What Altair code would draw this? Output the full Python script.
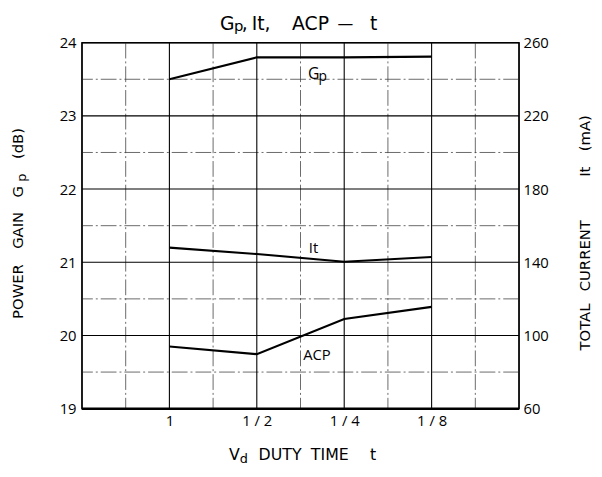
import altair as alt
import pandas as pd

# ---- data ----
duty = ["1", "1 / 2", "1 / 4", "1 / 8"]          # Vd duty time categories
gp_db = [23.5, 23.8, 23.8, 23.81]                 # power gain Gp (dB, left axis)
it_ma = [148, 144.5, 140.3, 142.9]                # total current It (mA, right axis)
acp_v = [19.85, 19.745, 20.225, 20.39]            # ACP curve (drawn on left scale)
left_ticks = [19, 20, 21, 22, 23, 24]
right_ticks = [60, 100, 140, 180, 220, 260]

W, H = 443, 371
FONT = "Open Sans"
TFONT = "DejaVu Sans"

slots = [2 * (i + 1) for i in range(len(duty))]
df = pd.DataFrame({"slot": slots, "duty": duty, "gp": gp_db, "it": it_ma, "acp": acp_v})

xscale = alt.Scale(domain=[0, 10], nice=False, zero=False)
ylscale = alt.Scale(domain=[19, 24], nice=False, zero=False)
yrscale = alt.Scale(domain=[60, 260], nice=False, zero=False)

label_expr = "".join(f"datum.value=={s}?'{d}':" for s, d in zip(slots, duty)) + "''"
xaxis = alt.Axis(values=slots, labelExpr=label_expr, ticks=False, domain=False, grid=False,
                 labelFont=FONT, labelFontSize=15, labelPadding=5, labelColor="black", title=None)
ylaxis = alt.Axis(values=left_ticks, format="d", ticks=False, domain=False, grid=False,
                  labelFont=FONT, labelFontSize=15, labelPadding=6, labelColor="black", title=None)
yraxis = alt.Axis(values=right_ticks, format="d", ticks=False, domain=False, grid=False, orient="right",
                  labelFont=FONT, labelFontSize=15, labelPadding=4, labelColor="black", title=None)

def X(f):
    return alt.X(f, type="quantitative", scale=xscale, axis=xaxis)

def YL(f):
    return alt.Y(f, type="quantitative", scale=ylscale, axis=ylaxis)

# grid
hvals = [19 + 0.5 * i for i in range(11)]
hgrid = pd.DataFrame({"v": hvals, "major": [v == int(v) for v in hvals]})
vvals = list(range(11))
vgrid = pd.DataFrame({"u": vvals, "major": [u % 2 == 0 for u in vvals]})

h_major = alt.Chart(hgrid[hgrid.major]).mark_rule(color="black", strokeWidth=1.1).encode(y=YL("v"))
h_minor = alt.Chart(hgrid[~hgrid.major]).mark_rule(color="#444", strokeWidth=0.8, strokeDash=[16, 3, 2, 3]).encode(y=YL("v"))
v_major = alt.Chart(vgrid[vgrid.major]).mark_rule(color="black", strokeWidth=1.1).encode(x=X("u"))
v_minor = alt.Chart(vgrid[~vgrid.major]).mark_rule(color="#444", strokeWidth=0.8, strokeDash=[16, 3, 2, 3]).encode(x=X("u"))
bottom = alt.Chart(pd.DataFrame({"v": [19]})).mark_rule(color="black", strokeWidth=2.5).encode(y=YL("v"))

gp_line = alt.Chart(df).mark_line(color="black", strokeWidth=2.2).encode(x=X("slot"), y=YL("gp"))
acp_line = alt.Chart(df).mark_line(color="black", strokeWidth=2.2).encode(x=X("slot"), y=YL("acp"))

# series annotations (data coordinates)
ann = pd.DataFrame({
    "sx": [5.17, 5.41, 5.19, 5.06],
    "sy": [23.5, 23.47, 21.13, 19.66],
    "t": ["G", "p", "It", "ACP"],
    "fs": [16, 14, 15, 15],
})
ann_marks = alt.Chart(ann).mark_text(align="left", baseline="alphabetic", font=FONT, color="black").encode(
    x=X("sx"), y=YL("sy"), text="t:N", size=alt.Size("fs:Q", scale=None, legend=None))


def ptext(txt, x, y, size, angle=0, align="left"):
    return alt.Chart(pd.DataFrame({"t": [txt]})).mark_text(
        align=align, baseline="alphabetic", fontSize=size, font=TFONT, angle=angle, color="black"
    ).encode(x=alt.value(x), y=alt.value(y), text="t:N")

titles = [
    # chart title: "Gp, It, ACP — t"
    ptext("G", 140, -13, 19),
    ptext("p", 154, -12, 15),
    ptext(",", 162, -13, 19),
    ptext("It,", 172, -13, 19),
    ptext("ACP", 213, -13, 19),
    ptext("—", 259, -14, 16),
    ptext("t", 292, -13, 19),
    # x title: "Vd DUTY TIME t"
    ptext("V", 149, 423, 16),
    ptext("d", 160, 426, 13),
    ptext("DUTY", 179, 423, 16),
    ptext("TIME", 232, 423, 16),
    ptext("t", 292, 423, 16),
    # left title: "POWER GAIN Gp (dB)"
    ptext("POWER", -60, 280, 15, angle=270),
    ptext("GAIN", -60, 209, 15, angle=270),
    ptext("G", -60, 157, 15, angle=270),
    ptext("p", -57, 141, 13, angle=270),
    ptext("(dB)", -60, 118, 15, angle=270),
    # right title: "TOTAL CURRENT It (mA)"
    ptext("TOTAL", 515, 312, 15, angle=270),
    ptext("CURRENT", 515, 252, 15, angle=270),
    ptext("It", 515, 136, 15, angle=270),
    ptext("(mA)", 515, 110, 15, angle=270),
]

left = alt.layer(h_minor, v_minor, h_major, v_major, bottom, gp_line, acp_line, ann_marks, *titles)

right = alt.Chart(df).mark_line(color="black", strokeWidth=2.2).encode(
    x=X("slot"), y=alt.Y("it:Q", scale=yrscale, axis=yraxis))

chart = alt.layer(left, right).resolve_scale(y="independent").properties(
    width=W, height=H,
    autosize=alt.AutoSizeParams(type="none"),
    padding={"left": 75, "top": 32, "right": 76, "bottom": 58},
).configure_view(stroke="black", strokeWidth=1.5)

chart.save("out.html", embed_options={"renderer": "svg", "actions": False})
